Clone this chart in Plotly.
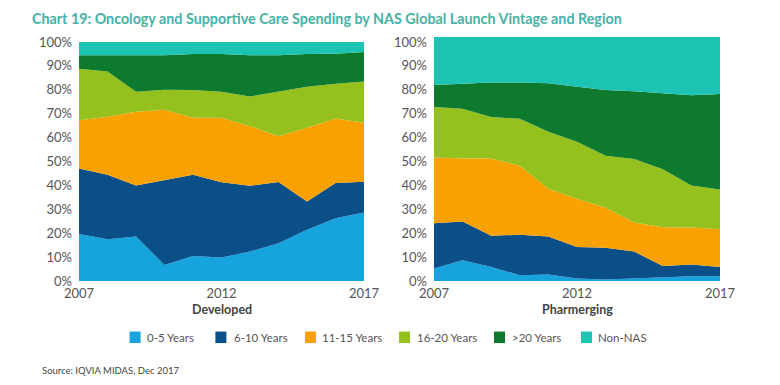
import plotly.graph_objects as go

years = list(range(2007, 2018))
series_names = ["0-5 Years", "6-10 Years", "11-15 Years", "16-20 Years", ">20 Years", "Non-NAS"]
colors = ["#17A3DE", "#0B4F89", "#F9A100", "#95C11F", "#0D7A2E", "#1DC3B3"]

# Developed (share %, per vintage)
dev_0_5   = [19.7, 17.5, 18.6, 6.7, 10.5, 9.8, 12.3, 15.8, 21.4, 26.3, 28.7]
dev_6_10  = [27.4, 27.0, 21.4, 35.4, 34.0, 31.5, 27.6, 25.6, 11.9, 14.7, 12.8]
dev_11_15 = [20.2, 24.2, 30.8, 29.6, 23.8, 27.0, 24.9, 19.2, 30.8, 27.0, 24.7]
dev_16_20 = [21.5, 19.0, 8.4, 8.3, 11.6, 10.9, 12.4, 18.8, 17.2, 14.5, 17.3]
dev_gt20  = [5.7, 6.8, 15.3, 14.5, 15.1, 15.8, 17.3, 15.1, 13.7, 12.6, 12.3]
dev_non   = [5.5, 5.5, 5.5, 5.5, 5.0, 5.0, 5.5, 5.5, 5.0, 4.9, 4.2]

# Pharmerging (share %, per vintage; the top band is drawn slightly above 100% in the source)
ph_0_5   = [5.2, 8.7, 5.9, 2.4, 2.7, 1.0, 0.6, 1.0, 1.4, 2.0, 2.0]
ph_6_10  = [19.0, 16.2, 13.0, 17.0, 15.9, 13.2, 13.3, 11.3, 4.9, 4.9, 3.9]
ph_11_15 = [27.5, 26.4, 32.4, 28.8, 20.0, 20.2, 16.7, 12.2, 16.2, 15.5, 15.8]
ph_16_20 = [21.1, 20.8, 17.3, 19.7, 23.9, 23.9, 21.8, 26.5, 24.3, 17.6, 16.6]
ph_gt20  = [9.2, 10.6, 14.5, 15.2, 20.2, 23.0, 27.5, 28.4, 31.7, 37.7, 39.9]
ph_non   = [20.1, 19.4, 19.0, 19.0, 19.4, 20.8, 22.2, 22.7, 23.6, 24.4, 23.9]

developed = [dev_0_5, dev_6_10, dev_11_15, dev_16_20, dev_gt20, dev_non]
pharmerging = [ph_0_5, ph_6_10, ph_11_15, ph_16_20, ph_gt20, ph_non]

y_ticks = [0, 10, 20, 30, 40, 50, 60, 70, 80, 90, 100]
y_tick_labels = [f"{v}%" for v in y_ticks]
x_ticks = [2007, 2012, 2017]

# layout geometry (screen pixels; page body has an 8px offset)
OFF = 8
W, H = 780, 385
ML, MR, MT, MB = 71, 68, 29.3, 112
PW, PH = W - ML - MR, H - MT - MB

def px(x):
    return (x - OFF - ML) / PW

def py(y):
    return (H - MB - (y - OFF)) / PH

FONT = "Lato"
fig = go.Figure()

for i, name in enumerate(series_names):
    fig.add_trace(go.Scatter(x=years, y=developed[i], stackgroup="dev", mode="lines",
                             line=dict(width=0, color=colors[i]), fillcolor=colors[i],
                             name=name, showlegend=False, xaxis="x", yaxis="y"))
    fig.add_trace(go.Scatter(x=years, y=pharmerging[i], stackgroup="ph", mode="lines",
                             line=dict(width=0, color=colors[i]), fillcolor=colors[i],
                             name=name, showlegend=False, xaxis="x2", yaxis="y2"))

axis_common = dict(showgrid=False, zeroline=False, showline=False, ticks="",
                   tickfont=dict(family=FONT, size=13, color="#555555"))

left_top = py(42.3)
right_range_top = 100 * (281 - 37.3) / (281 - 42.3)

# manual legend
leg_sq_x = [129.6, 215.4, 305, 399, 494, 581]
leg_txt_x = [145, 231.5, 320, 415, 509.6, 596]
shapes = []
annotations = []
for i, name in enumerate(series_names):
    shapes.append(dict(type="rect", xref="paper", yref="paper",
                       x0=px(leg_sq_x[i]), x1=px(leg_sq_x[i] + 11),
                       y0=py(343), y1=py(331.5), fillcolor=colors[i], line=dict(width=0)))
    annotations.append(dict(text=name, x=px(leg_txt_x[i]), y=py(337.5), xref="paper", yref="paper",
                            xanchor="left", yanchor="middle", showarrow=False,
                            font=dict(family=FONT, size=11.5, color="#555555")))

annotations += [
    dict(text="<b>Chart 19: Oncology and Supportive Care Spending by NAS Global Launch Vintage and Region</b>",
         x=px(30), y=py(8.5), xref="paper", yref="paper", xanchor="left", yanchor="top",
         showarrow=False, font=dict(family=FONT, size=14.3, color="#45B2A6")),
    dict(text="<b>Developed</b>", x=px(221.5), y=py(309), xref="paper", yref="paper",
         xanchor="center", yanchor="middle", showarrow=False,
         font=dict(family=FONT, size=12.5, color="#444444")),
    dict(text="<b>Pharmerging</b>", x=px(577), y=py(309), xref="paper", yref="paper",
         xanchor="center", yanchor="middle", showarrow=False,
         font=dict(family=FONT, size=12.5, color="#444444")),
    dict(text="Source: IQVIA MIDAS, Dec 2017", x=px(40), y=py(370), xref="paper", yref="paper",
         xanchor="left", yanchor="middle", showarrow=False,
         font=dict(family=FONT, size=9.5, color="#444444")),
]

fig.update_layout(
    width=W, height=H,
    margin=dict(l=ML, r=MR, t=MT, b=MB, autoexpand=False),
    plot_bgcolor="white", paper_bgcolor="white",
    showlegend=False,
    xaxis=dict(domain=[0, px(364)], range=[2007, 2017], tickvals=x_ticks,
               ticklabelstandoff=3, **axis_common),
    yaxis=dict(domain=[0, left_top], range=[0, 100], tickvals=y_ticks, ticktext=y_tick_labels,
               ticklabelstandoff=6, **axis_common),
    xaxis2=dict(domain=[px(434), 1], range=[2007, 2017], tickvals=x_ticks,
                ticklabelstandoff=3, anchor="y2", **axis_common),
    yaxis2=dict(domain=[0, 1], range=[0, right_range_top], tickvals=y_ticks, ticktext=y_tick_labels,
                ticklabelstandoff=6, anchor="x2", **axis_common),
    shapes=shapes,
    annotations=annotations,
)

fig.write_html("out.html")
